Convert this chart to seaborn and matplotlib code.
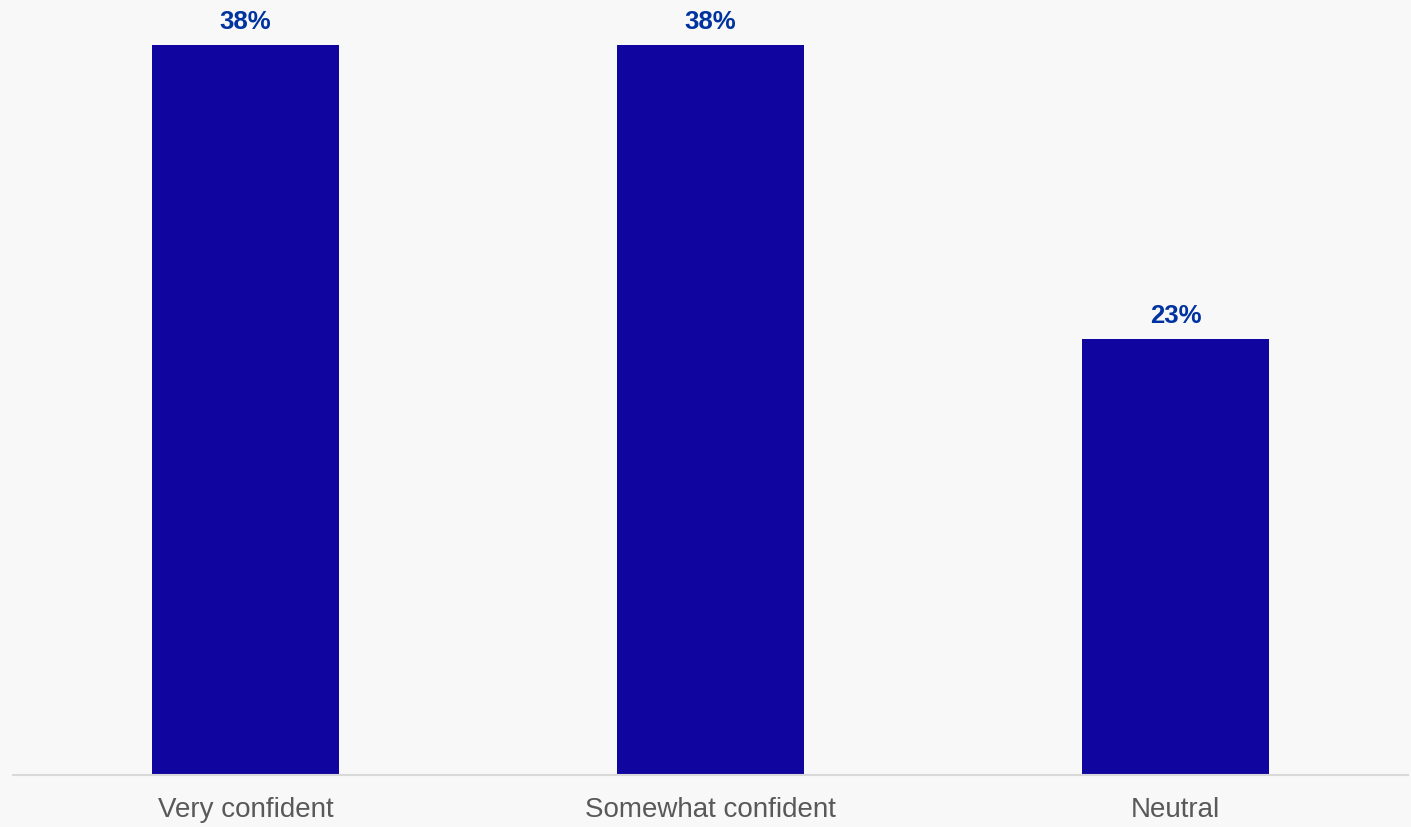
import pandas as pd
import matplotlib.pyplot as plt
import seaborn as sns

# dados
categorias = ["Very confident", "Somewhat confident", "Neutral"]
valores = [38.2, 38.2, 22.8]

df = pd.DataFrame({"categoria": categorias, "valor": valores})

sns.set_style("white")
plt.rcParams["font.family"] = ["Liberation Sans", "DejaVu Sans"]

fig = plt.figure(figsize=(14.11, 8.27), dpi=100)
fig.patch.set_facecolor("#f8f8f8")
ax = fig.add_axes([13 / 1411, 52 / 827, 1395 / 1411, 775 / 827])
ax.set_facecolor("#f8f8f8")

sns.barplot(data=df, x="categoria", y="valor", color="#10069f",
            width=0.402, saturation=1, linewidth=0, ax=ax)

for i, v in enumerate(valores):
    ax.annotate(f"{v:.0f}%", (i, v), xytext=(0, 8), textcoords="offset points",
                ha="center", va="bottom", fontsize=18.5, fontweight="bold",
                color="#0033a0")

ax.set_xlim(-0.5, 2.5)
ax.set_ylim(0, 40.55)
ax.set_xlabel("")
ax.set_ylabel("")
ax.set_yticks([])
ax.tick_params(axis="x", length=0, pad=16, labelsize=20, labelcolor="#595959")
for lado in ["top", "left", "right"]:
    ax.spines[lado].set_visible(False)
ax.spines["bottom"].set_color("#d9d9d9")
ax.spines["bottom"].set_linewidth(1.5)

fig.savefig("out.png", dpi=100, facecolor=fig.get_facecolor())
